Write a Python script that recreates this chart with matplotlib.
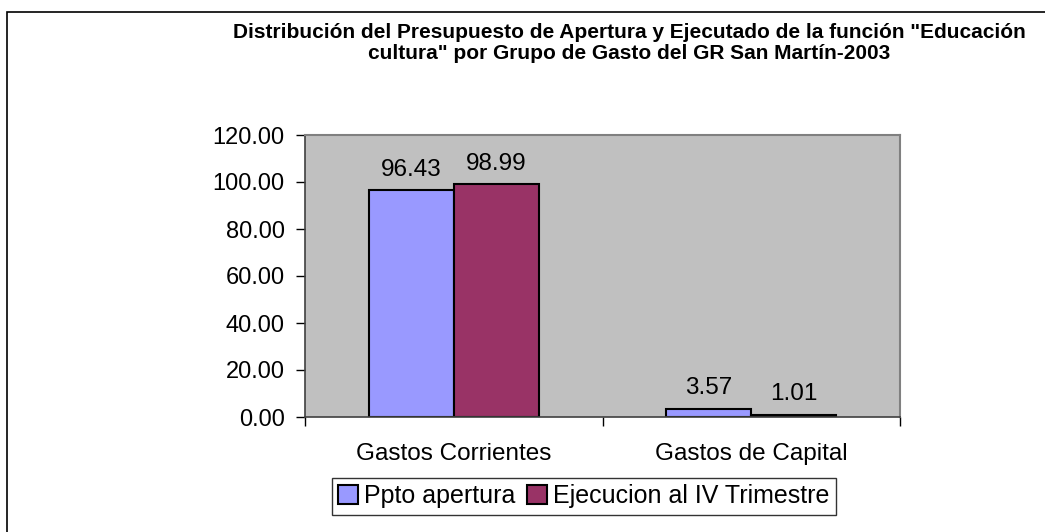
import matplotlib
matplotlib.use("Agg")
import matplotlib.pyplot as plt
import numpy as np
from matplotlib.patches import Rectangle

plt.rcParams['font.family'] = ['Liberation Sans', 'DejaVu Sans']

categories = ["Gastos Corrientes", "Gastos de Capital"]
ppto_apertura = [96.43, 3.57]
ejecucion_iv = [98.99, 1.01]
series_names = ["Ppto apertura", "Ejecucion al IV Trimestre"]
title = ('Distribución del Presupuesto de Apertura y Ejecutado de la función "Educación\n'
         'cultura" por Grupo de Gasto del GR San Martín-2003')

W, H = 1045, 532
fig = plt.figure(figsize=(W / 100, H / 100), dpi=100)

# outer chart frame (runs off the bottom/right of the image)
fig.patches.append(Rectangle((7 / W, -0.1), 1.2, 1 - 12 / H + 0.1,
                             transform=fig.transFigure, fill=False,
                             edgecolor="black", linewidth=1.2))

ax = fig.add_axes([305 / W, 1 - 417 / H, (900 - 305) / W, (417 - 135) / H])
ax.set_facecolor("#C0C0C0")

x = np.arange(len(categories))
bw = 0.285
b1 = ax.bar(x - bw / 2, ppto_apertura, bw, color="#9999FF", edgecolor="black",
            linewidth=1.5, label=series_names[0])
b2 = ax.bar(x + bw / 2, ejecucion_iv, bw, color="#993366", edgecolor="black",
            linewidth=1.5, label=series_names[1])

for bars in (b1, b2):
    ax.bar_label(bars, labels=[f"{v:.2f}" for v in bars.datavalues],
                 padding=7, fontsize=17.5)

ax.set_xlim(-0.5, 1.5)
ax.set_ylim(0, 120)
ax.set_yticks(np.arange(0, 121, 20))
ax.set_yticklabels([f"{v:.2f}" for v in np.arange(0, 121, 20)], fontsize=17)
ax.tick_params(axis="y", direction="out", length=6.5, width=1, pad=8)

ax.set_xticks([-0.5, 0.5, 1.5])
ax.set_xticklabels([])
ax.set_xticks(x, minor=True)
ax.set_xticklabels(categories, minor=True, fontsize=17.5)
ax.tick_params(axis="x", which="major", direction="out", length=6.5, width=1)
ax.tick_params(axis="x", which="minor", length=0, pad=19)

for side in ("top", "right"):
    ax.spines[side].set_color("#808080")
    ax.spines[side].set_linewidth(1.5)
for side in ("left", "bottom"):
    ax.spines[side].set_color("#404040")
    ax.spines[side].set_linewidth(1.2)

fig.text(629 / W, 1 - 43 / H, title, ha="center", va="center",
         fontsize=15, fontweight="bold", linespacing=1.12)

leg = fig.legend(handles=[b1, b2], labels=series_names, loc="center",
                 bbox_to_anchor=(584 / W, 1 - 496.5 / H), ncol=2, fontsize=18,
                 frameon=True, fancybox=False, edgecolor="black",
                 handlelength=0.8, handleheight=0.8, handletextpad=0.25,
                 columnspacing=0.45, borderpad=0.25, borderaxespad=0)
leg.get_frame().set_linewidth(1.0)

fig.savefig("out.png", dpi=100)
